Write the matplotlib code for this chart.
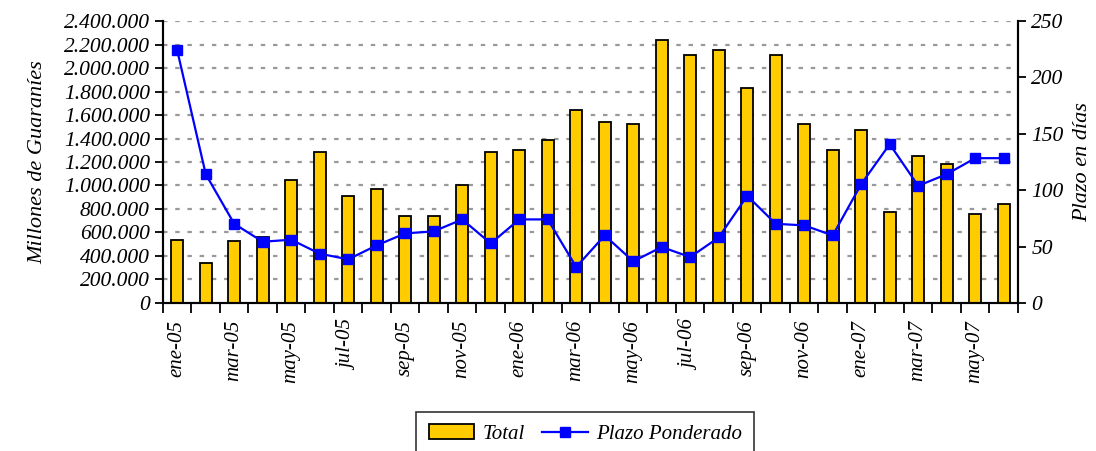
import numpy as np
import matplotlib.pyplot as plt
from matplotlib.ticker import FuncFormatter, FixedLocator

plt.rcParams['font.family'] = ['Liberation Serif', 'DejaVu Serif']
plt.rcParams['font.style'] = 'italic'

# Data
months = ["ene-05", "feb-05", "mar-05", "abr-05", "may-05", "jun-05",
          "jul-05", "ago-05", "sep-05", "oct-05", "nov-05", "dic-05",
          "ene-06", "feb-06", "mar-06", "abr-06", "may-06", "jun-06",
          "jul-06", "ago-06", "sep-06", "oct-06", "nov-06", "dic-06",
          "ene-07", "feb-07", "mar-07", "abr-07", "may-07", "jun-07"]
total = [538000, 337000, 524000, 558000, 1051000, 1286000,
         912000, 966000, 742000, 742000, 1000000, 1286000,
         1301000, 1388000, 1641000, 1539000, 1524000, 2236000,
         2114000, 2151000, 1830000, 2114000, 1522000, 1303000,
         1471000, 776000, 1250000, 1182000, 759000, 844000]
plazo = [224.0, 114.2, 70.2, 54.3, 56.1, 43.7,
         38.7, 51.1, 61.7, 63.5, 74.1, 52.8,
         74.1, 74.1, 31.9, 59.9, 36.9, 49.6,
         40.7, 58.1, 95.0, 70.2, 68.8, 59.9,
         105.4, 140.8, 103.9, 114.2, 128.4, 128.4]

x = np.arange(len(months))

fig = plt.figure(figsize=(10.96, 4.51), dpi=100)
ax = fig.add_axes([0.1487, 0.3282, 0.9288 - 0.1487, 0.9534 - 0.3282])
ax2 = ax.twinx()

# gridlines
for v in np.arange(200000, 2400001, 200000):
    ax.axhline(v, color="#999999", lw=1.6, linestyle=(0, (2, 3.5)), zorder=0)

bars = ax.bar(x, total, width=0.42, color="#FFCC00", edgecolor="black",
              linewidth=1.3, zorder=2, label="Total")
line, = ax2.plot(x, plazo, color="#0000FF", lw=1.6, marker="s", markersize=7,
                 markeredgecolor="#0000FF", label="Plazo Ponderado", zorder=3)

ax.set_xlim(-0.5, len(months) - 0.5)
ax.set_ylim(0, 2400000)
ax2.set_ylim(0, 250)

ax.set_yticks(np.arange(0, 2400001, 200000))
ax.yaxis.set_major_formatter(FuncFormatter(lambda v, p: f"{int(v):,}".replace(",", ".")))
ax2.set_yticks(np.arange(0, 251, 50))

# ticks between categories, labels every 2 months at bar centres
ax.xaxis.set_major_locator(FixedLocator(x[::2]))
ax.set_xticklabels(months[::2], rotation=90, fontsize=15)
ax.xaxis.set_minor_locator(FixedLocator(np.arange(-0.5, len(months), 1)))
ax.tick_params(axis="x", which="major", length=0, pad=12)
ax.tick_params(axis="x", which="minor", length=7, width=1.3, direction="out")
ax.tick_params(axis="y", labelsize=15.5, length=6, width=1.3, direction="out")
ax2.tick_params(axis="y", labelsize=15.5, length=6, width=1.3, direction="out")

for a in (ax, ax2):
    a.spines["top"].set_visible(False)
    for s in ("left", "right", "bottom"):
        a.spines[s].set_linewidth(1.5)

ax.set_ylabel("Millones de Guaraníes", fontsize=16, labelpad=12)
ax2.set_ylabel("Plazo en días", fontsize=16, labelpad=7)

leg = fig.legend([bars, line], ["Total", "Plazo Ponderado"], loc="lower center",
                 bbox_to_anchor=(0.534, -0.035), ncol=2, fontsize=15,
                 frameon=True, fancybox=False, edgecolor="black",
                 handlelength=2.2, columnspacing=0.8, handletextpad=0.4,
                 borderpad=0.6)
leg.get_frame().set_linewidth(1.2)

plt.savefig("out.png", dpi=100)
